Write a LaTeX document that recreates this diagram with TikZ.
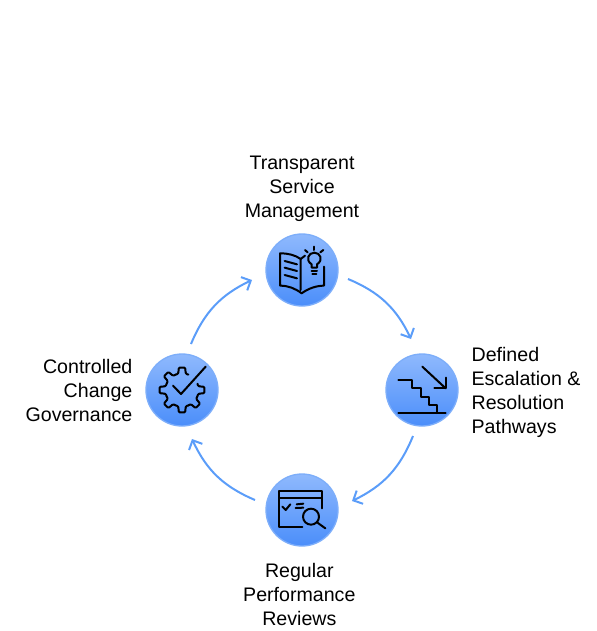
\documentclass[tikz,border=0pt]{standalone}
\usepackage{fontspec}
\setmainfont{Liberation Sans}
\usepackage{xcolor}
\usetikzlibrary{positioning,arrows.meta}
\definecolor{hubtop}{HTML}{8FB9FD}
\definecolor{hubbottom}{HTML}{4B8EFA}
\definecolor{hubrim}{HTML}{7DAEFA}
\definecolor{flowblue}{HTML}{5B9DF9}

\begin{document}
\begin{tikzpicture}[
    x=0.75pt,y=-0.75pt,
    hub/.style={circle,draw=hubrim,line width=1pt,top color=hubtop,bottom color=hubbottom,minimum size=54pt,inner sep=0pt},
    flow/.style={-{Straight Barb[length=5.5pt,width=11pt]},line width=1.5pt,flowblue,bend left=21},
    lab/.style={font=\fontsize{14.7}{18}\selectfont,text=black,inner sep=0pt},
    ico/.style={line width=1.5pt,black,line cap=round,line join=round}
  ]
    \useasboundingbox (0,0) rectangle (596,631);
    \node[hub] (service) at (302,270) {};
    \node[hub] (escalation) at (422,390) {};
    \node[hub] (reviews) at (302,510) {};
    \node[hub] (change) at (182,390) {};
    \coordinate (s1) at (348,279);
    \coordinate (e1) at (411,339);
    \coordinate (s2) at (413,436);
    \coordinate (e2) at (352,501);
    \coordinate (s3) at (255,500);
    \coordinate (e3) at (192,439);
    \coordinate (s4) at (191,344);
    \coordinate (e4) at (252,280);
    \draw[flow] (s1) to (e1);
    \draw[flow] (s2) to (e2);
    \draw[flow] (s3) to (e3);
    \draw[flow] (s4) to (e4);
    \node[lab,align=center,above=8.8pt of service] {Transparent\\Service\\Management};
    \node[lab,align=left,right=9.5pt of escalation,yshift=-1.8pt] {Defined\\Escalation \&\\Resolution\\Pathways};
    \node[lab,align=center,below=12.5pt of reviews,xshift=-2pt] {Regular\\Performance\\Reviews};
    \node[lab,align=right,left=9.5pt of change] {Controlled\\Change\\Governance};
    % book and bulb
    \begin{scope}[shift={(255,225)},x=0.25pt,y=-0.25pt]
      \draw[ico] (140,205) .. controls (120,190) and (100,182) .. (75,182) -- (75,85) .. controls (100,85) and (120,90) .. (137,102) -- (137,195);
      \draw[ico] (137,102) -- (150,92);
      \draw[ico] (140,205) .. controls (160,190) and (185,182) .. (207,182) -- (207,125);
      \foreach \y in {108,128,150} \draw[ico] (89,\y) -- (126,\y+10);
      \draw[ico] (170,128) -- (170,118) .. controls (150,105) and (160,83) .. (178,83) .. controls (196,83) and (206,105) .. (186,118) -- (186,128) -- cycle;
      \draw[ico] (170,138) -- (186,138);
      \draw[ico] (172,148) -- (184,148);
      \draw[ico] (176,65) -- (176,75);
      \draw[ico] (150,75) -- (158,82);
      \draw[ico] (205,75) -- (196,82);
    \end{scope}
    % stairs
    \begin{scope}[shift={(375,345)},x=0.25pt,y=-0.25pt]
      \draw[ico] (70,106) -- (112,106) -- (112,130) -- (137,130) -- (137,155) -- (162,155) -- (162,180) -- (187,180) -- (187,204);
      \draw[ico] (70,204) -- (212,204);
      \draw[ico] (142,65) -- (212,130);
      \draw[ico] (178,130) -- (212,130) -- (212,98);
    \end{scope}
    % report and magnifier
    \begin{scope}[shift={(255,465)},x=0.25pt,y=-0.25pt]
      \draw[ico] (142,185) -- (72,185) -- (72,78) -- (200,78) -- (200,130);
      \draw[ico] (72,98) -- (200,98);
      \draw[ico] (82,125) -- (92,135) -- (106,118);
      \draw[ico] (125,118) -- (145,116);
      \draw[ico] (122,129) -- (145,128);
      \draw[ico] (168,155) circle[radius=24];
      \draw[ico] (186,172) -- (211,190);
    \end{scope}
    % gear and check
    \begin{scope}[shift={(182,390)},x=0.25pt,y=0.25pt]
      \foreach \a in {0,-45,...,-270}
        \draw[ico,rounded corners=0.8pt] (\a+22:50) -- (\a+13:50) -- (\a+8:68) -- (\a-8:68) -- (\a-13:50) -- (\a-22.5:50);
      \draw[ico] (-27,13) -- (-3,-12) -- (71,70);
    \end{scope}
  \end{tikzpicture}
\end{document}
